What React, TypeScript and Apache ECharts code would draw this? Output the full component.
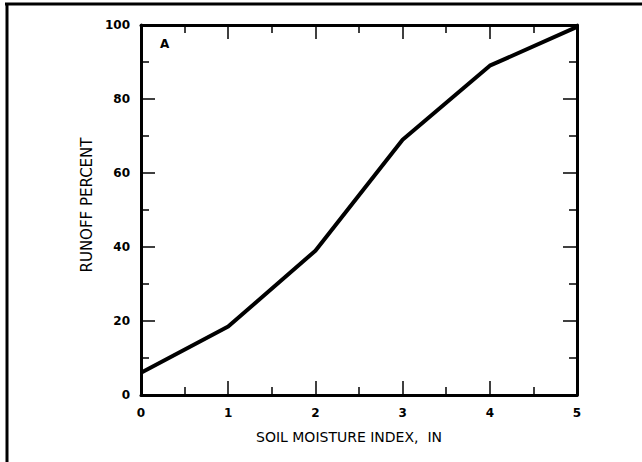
import React, { useEffect, useRef } from "react";
import * as echarts from "echarts";

const moistureIndex = [0, 1, 2, 3, 4, 5];
const runoffPercent = [6, 18.5, 39, 69, 89, 99.5];
const xTitle = "SOIL MOISTURE INDEX,  IN";
const yTitle = "RUNOFF PERCENT";
const panelLabel = "A";

export default function App() {
  const ref = useRef<HTMLDivElement>(null);
  useEffect(() => {
    if (!ref.current) return;
    const chart = echarts.init(ref.current, null, { renderer: "svg" });
    const font = "DejaVu Sans, Liberation Sans, Arial, sans-serif";
    const axisBase = (pos: string, showLabel: boolean, isX: boolean) => ({
      type: "value",
      position: pos,
      min: 0,
      max: isX ? 5 : 100,
      interval: isX ? 1 : 20,
      axisLine: { show: true, onZero: false, lineStyle: { color: "#000", width: 3 } },
      axisTick: { show: true, inside: true, length: 14, lineStyle: { color: "#000", width: 1.5 } },
      minorTick: { show: true, splitNumber: 2, length: 8, lineStyle: { color: "#000", width: 1.5 } },
      splitLine: { show: false },
      axisLabel: {
        show: showLabel,
        color: "#000",
        fontFamily: font,
        fontWeight: "bold",
        fontSize: 12,
        margin: isX ? 12 : 11,
      },
    });
    chart.setOption({
      animation: false,
      backgroundColor: "#fff",
      grid: { left: 141, right: 65, top: 25, bottom: 67, containLabel: false },
      xAxis: [
        {
          ...axisBase("bottom", true, true),
          name: xTitle,
          nameLocation: "middle",
          nameGap: 35,
          nameTextStyle: { color: "#000", fontFamily: font, fontSize: 14, padding: [0, 20, 0, 0] },
        },
        { ...axisBase("top", false, true) },
      ],
      yAxis: [
        {
          ...axisBase("left", true, false),
          name: yTitle,
          nameLocation: "middle",
          nameGap: 46,
          nameRotate: 90,
          nameTextStyle: { color: "#000", fontFamily: font, fontSize: 15, padding: [0, 0, 0, 10] },
        },
        { ...axisBase("right", false, false) },
      ],
      graphic: [
        { type: "line", shape: { x1: 5, y1: 4, x2: 642, y2: 4 }, style: { stroke: "#000", lineWidth: 3 } },
        { type: "line", shape: { x1: 7, y1: 3, x2: 7, y2: 462 }, style: { stroke: "#000", lineWidth: 3 } },
        {
          type: "text",
          x: 160,
          y: 38,
          style: { text: panelLabel, fill: "#000", font: "bold 12px DejaVu Sans, Arial, sans-serif" },
        },
      ],
      series: [
        {
          type: "line",
          data: moistureIndex.map((x, i) => [x, runoffPercent[i]]),
          showSymbol: false,
          symbol: "none",
          clip: false,
          lineStyle: { color: "#000", width: 4 },
        },
      ],
    });
    return () => chart.dispose();
  }, []);
  return <div ref={ref} style={{ width: 642, height: 462, position: "absolute", left: 0, top: 0 }} />;
}
